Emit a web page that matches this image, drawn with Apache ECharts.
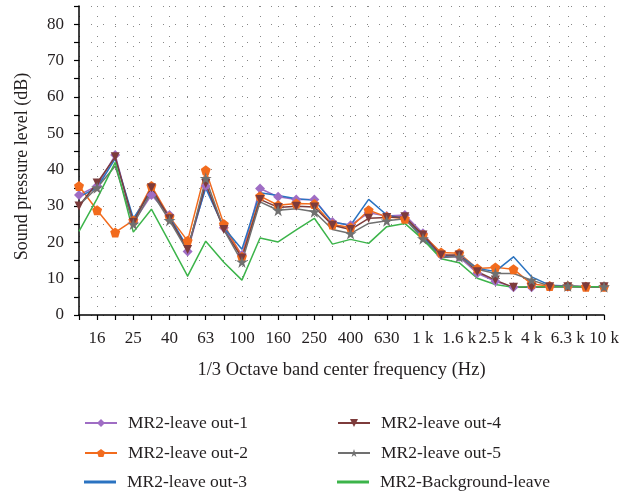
<!DOCTYPE html>
<html>
<head>
<meta charset="utf-8">
<script src="https://cdn.jsdelivr.net/npm/echarts@6/dist/echarts.min.js"></script>
<style>
  html, body { margin: 0; padding: 0; background: #fff; }
  #chart { width: 634px; height: 494px; }
</style>
</head>
<body>
<div id="chart"></div>
<script>
const bands = ['12.5', '16', '20', '25', '31.5', '40', '50', '63', '80', '100', '125', '160', '200', '250', '315',
  '400', '500', '630', '800', '1 k', '1.25 k', '1.6 k', '2 k', '2.5 k', '3.15 k', '4 k', '5 k', '6.3 k', '8 k', '10 k']

const out1 = [33, 35.5, 44, 25.5, 33, 27.5, 17.5, 35.5, 24, 16.5, 34.8, 32.5, 31.8, 31.8, 25.6,
  24.7, 28.1, 27.2, 27.5, 22.5, 16.5, 16, 11.5, 9.3, 7.6, 7.6, 7.8, 7.8, 7.8, 7.8]
const out2 = [35.5, 28.8, 22.7, 26, 35.5, 27, 20.4, 39.8, 25, 16, 32.7, 30.2, 30.7, 30.5, 24.9,
  24.1, 28.8, 27, 26.5, 22, 17.2, 17, 12.8, 13.1, 12.6, 8.5, 8, 8, 7.8, 7.8]
const out3 = [32.5, 35, 43, 26.6, 34, 27, 18.5, 34.9, 24, 18.1, 33.6, 32.9, 32, 31.6, 25.6,
  24.7, 31.8, 27.5, 26.5, 21.5, 16, 16.5, 12.8, 12, 16, 10.5, 8.2, 8, 7.8, 7.8]
const out4 = [30, 36.3, 43.5, 25.5, 35, 26.5, 18, 36.2, 23.5, 15.7, 31.8, 29.6, 29.9, 29.7, 24.7,
  23.5, 26.6, 26.8, 27, 22, 16.5, 16.5, 11.9, 9.6, 7.6, 7.6, 7.8, 7.8, 7.8, 7.8]
const out5 = [30.2, 35, 41, 25, 33.9, 26, 17.5, 37.6, 23.5, 14.6, 31.1, 28.8, 29.2, 28.4, 23.5,
  22.4, 25.2, 25.9, 26.5, 21, 15.8, 16, 12.6, 11.4, 11.4, 9.6, 8, 8, 7.8, 7.8]
const background = [23, 32, 42, 22.8, 29.1, 20, 10.7, 20.3, 14.5, 9.6, 21.2, 20.1, 23.4, 26.6, 19.5,
  20.8, 19.7, 24.3, 25.2, 20.8, 15.5, 14.4, 10.1, 8.4, 7.6, 7.8, 7.8, 7.8, 7.8, 7.8]

const names = ['MR2-leave out-1', 'MR2-leave out-2', 'MR2-leave out-3',
  'MR2-leave out-4', 'MR2-leave out-5', 'MR2-Background-leave']

const font = 'Liberation Serif'
const ink = '#231f20'
const starPath = 'path://M50,0 L61,35 L98,35 L68,57 L79,92 L50,70 L21,92 L32,57 L2,35 L39,35 Z'
const pentPath = 'path://M50,0 L98,35 L79,92 L21,92 L2,35 Z'

function line(name, data, color, symbol, size, extra) {
  return Object.assign({
    name: name,
    type: 'line',
    data: data,
    symbol: symbol,
    symbolSize: size,
    showSymbol: symbol !== 'none',
    lineStyle: { color: color, width: 1.5 },
    itemStyle: { color: color },
    emphasis: { disabled: true },
    animation: false
  }, extra || {})
}

// one legend block per entry, two columns of three rows
const legendLeft = [79, 79, 79, 332, 332, 332]
const legendTop = [409, 439, 468, 409, 439, 468]
const legends = names.map(function(n, i) {
  const plain = i === 2 || i === 5
  return {
    data: [plain ? { name: n, icon: 'rect' } : n],
    left: legendLeft[i],
    top: legendTop[i],
    itemWidth: 32,
    itemHeight: plain ? 3 : 10,
    textStyle: { fontFamily: font, fontSize: 17.5, color: ink, padding: [0, 0, 0, 6] }
  }
})

const chart = echarts.init(document.getElementById('chart'))
chart.setOption({
  backgroundColor: '#fff',
  textStyle: { fontFamily: font },
  grid: { left: 79, right: 30, top: 6, bottom: 179 },
  legend: legends,
  xAxis: {
    type: 'category',
    data: bands,
    boundaryGap: false,
    name: '1/3 Octave band center frequency (Hz)',
    nameLocation: 'middle',
    nameGap: 46,
    nameTextStyle: { fontFamily: font, fontSize: 18.5, color: ink },
    axisLine: { lineStyle: { color: '#000', width: 1.5 } },
    axisTick: { alignWithLabel: true, interval: 0, length: 5, lineStyle: { color: '#000', width: 1.2 } },
    axisLabel: {
      interval: function(i) { return i % 2 === 1 },
      margin: 15,
      fontFamily: font,
      fontSize: 17,
      color: ink
    },
    splitLine: { show: true, interval: 0, lineStyle: { color: '#888', width: 1, type: [1, 9] } }
  },
  yAxis: {
    type: 'value',
    min: 0,
    max: 85,
    interval: 5,
    name: 'Sound pressure level (dB)',
    nameLocation: 'middle',
    nameGap: 48,
    nameTextStyle: { fontFamily: font, fontSize: 18, color: ink, padding: [0, 12, 0, 0] },
    axisLine: { show: true, lineStyle: { color: '#000', width: 1.5 } },
    axisTick: { show: true, length: 5, lineStyle: { color: '#000', width: 1.2 } },
    axisLabel: {
      margin: 15,
      fontFamily: font,
      fontSize: 17,
      color: ink,
      formatter: function(v) { return v % 10 === 0 ? String(v) : '' }
    },
    splitLine: { show: true, lineStyle: { color: '#888', width: 1, type: [1, 11] } }
  },
  series: [
    line(names[0], out1, '#9f6dc4', 'diamond', 10),
    line(names[1], out2, '#f26b1d', pentPath, 10),
    line(names[2], out3, '#2a73c1', 'none', 0),
    line(names[3], out4, '#7d3b3b', 'triangle', 9, { symbolRotate: 180 }),
    line(names[4], out5, '#707070', starPath, 12),
    line(names[5], background, '#3cb44a', 'none', 0)
  ]
})
</script>
</body>
</html>
